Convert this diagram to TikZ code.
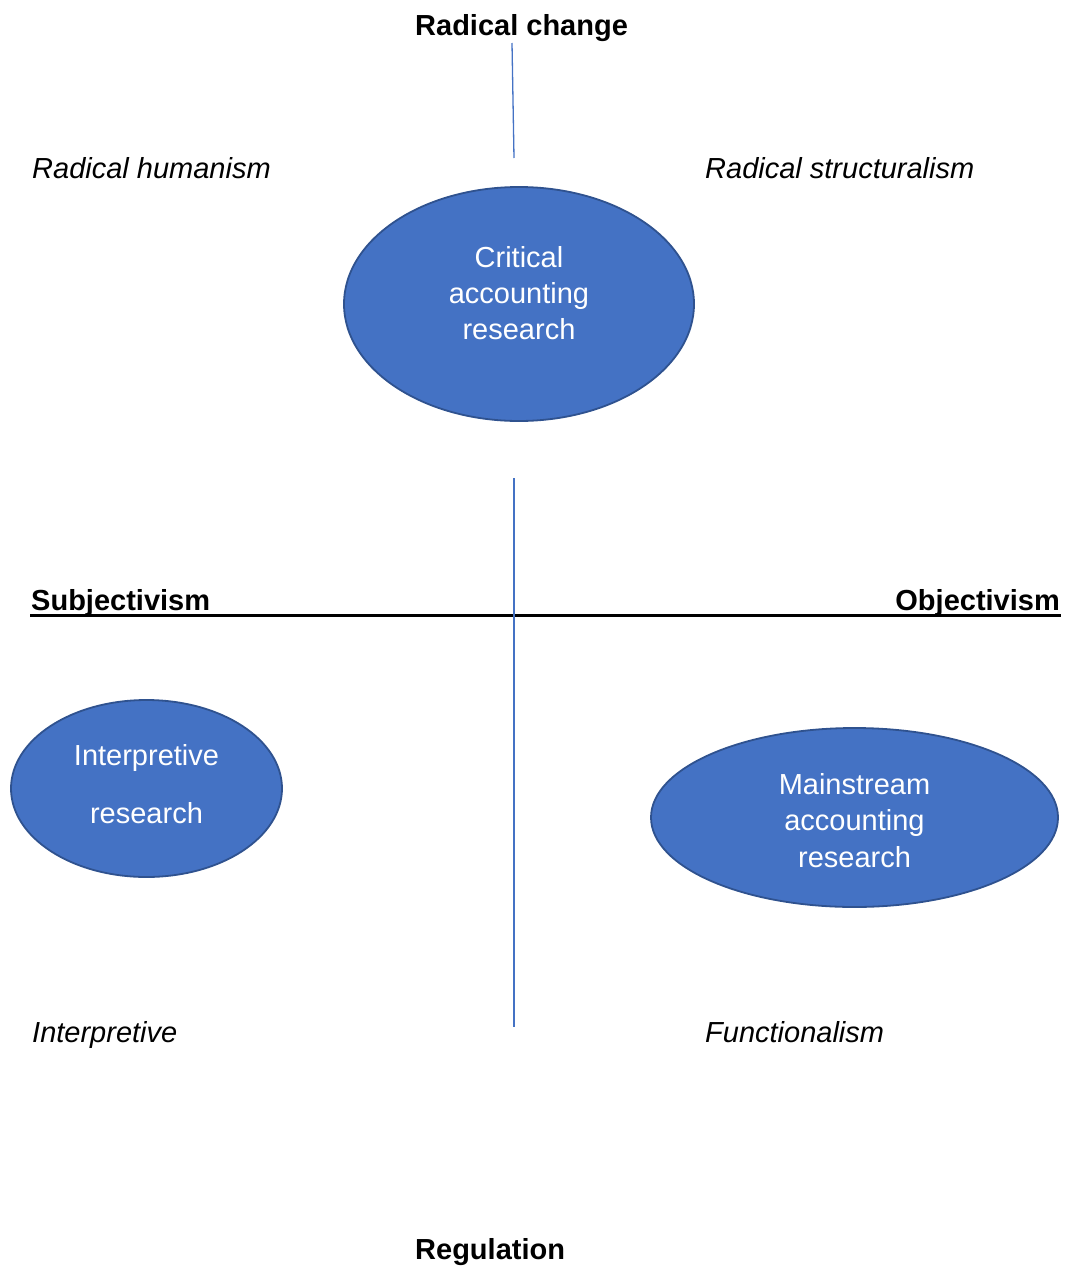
\documentclass[tikz,border=0pt]{standalone}
\usepackage{fontspec}
\setmainfont{Liberation Sans}
\usetikzlibrary{shapes.geometric}
\definecolor{accentblue}{HTML}{4472C4}
\definecolor{accentedge}{HTML}{2F528F}
\tikzset{
  axislabel/.style={font=\fontsize{29}{36}\selectfont\bfseries, inner sep=0pt, anchor=base west},
  paradigm/.style={font=\fontsize{29}{36}\selectfont\itshape, inner sep=0pt, anchor=base west},
  blob/.style={ellipse, draw=accentedge, line width=1.8pt, fill=accentblue, inner sep=0pt},
  blobtext/.style={text=white, inner sep=0pt, align=center},
  axisline/.style={draw=accentblue, line width=1.3pt},
}
\begin{document}
\begin{tikzpicture}[x=1pt,y=-1pt]
\useasboundingbox (0,0) rectangle (1065,1266);

% axis labels
\node[axislabel] (rc) at (415,35) {Radical change};
\node[axislabel] (reg) at (415,1259) {Regulation};
\node[axislabel] (subj) at (31,610) {Subjectivism};
\node[axislabel, anchor=base east] (obj) at (1060,610) {Objectivism};

% paradigm names
\node[paradigm] (rh) at (32,178) {Radical humanism};
\node[paradigm] (rs) at (705,178) {Radical structuralism};
\node[paradigm] (ip) at (32,1042) {Interpretive};
\node[paradigm] (fn) at (705,1042) {Functionalism};

% axes
\coordinate (hL) at (30,615.5);
\coordinate (hR) at (1061,615.5);
\draw[line width=2.8pt] (hL) -- (hR);
\coordinate (vA) at (512,43);
\coordinate (vB) at (514,158);
\coordinate (vC) at (514,478);
\coordinate (vD) at (514,1027);
\draw[axisline] (vA) -- (vB);
\draw[axisline] (vC) -- (vD);

% research streams
\node[blob, minimum width=350pt, minimum height=234pt] (crit) at (519,304) {};
\node[blobtext, font=\fontsize{29}{36}\selectfont, yshift=11pt] (critT) at (crit.center)
  {Critical\\accounting\\research};
\node[blob, minimum width=271pt, minimum height=177pt] (interp) at (146.5,788.5) {};
\node[blobtext, font=\fontsize{29}{58}\selectfont, yshift=4pt] (interpT) at (interp.center)
  {Interpretive\\research};
\node[blob, minimum width=407pt, minimum height=179pt] (main) at (854.5,817.5) {};
\node[blobtext, font=\fontsize{29}{36.5}\selectfont, yshift=-3pt] (mainT) at (main.center)
  {Mainstream\\accounting\\research};
\end{tikzpicture}
\end{document}
